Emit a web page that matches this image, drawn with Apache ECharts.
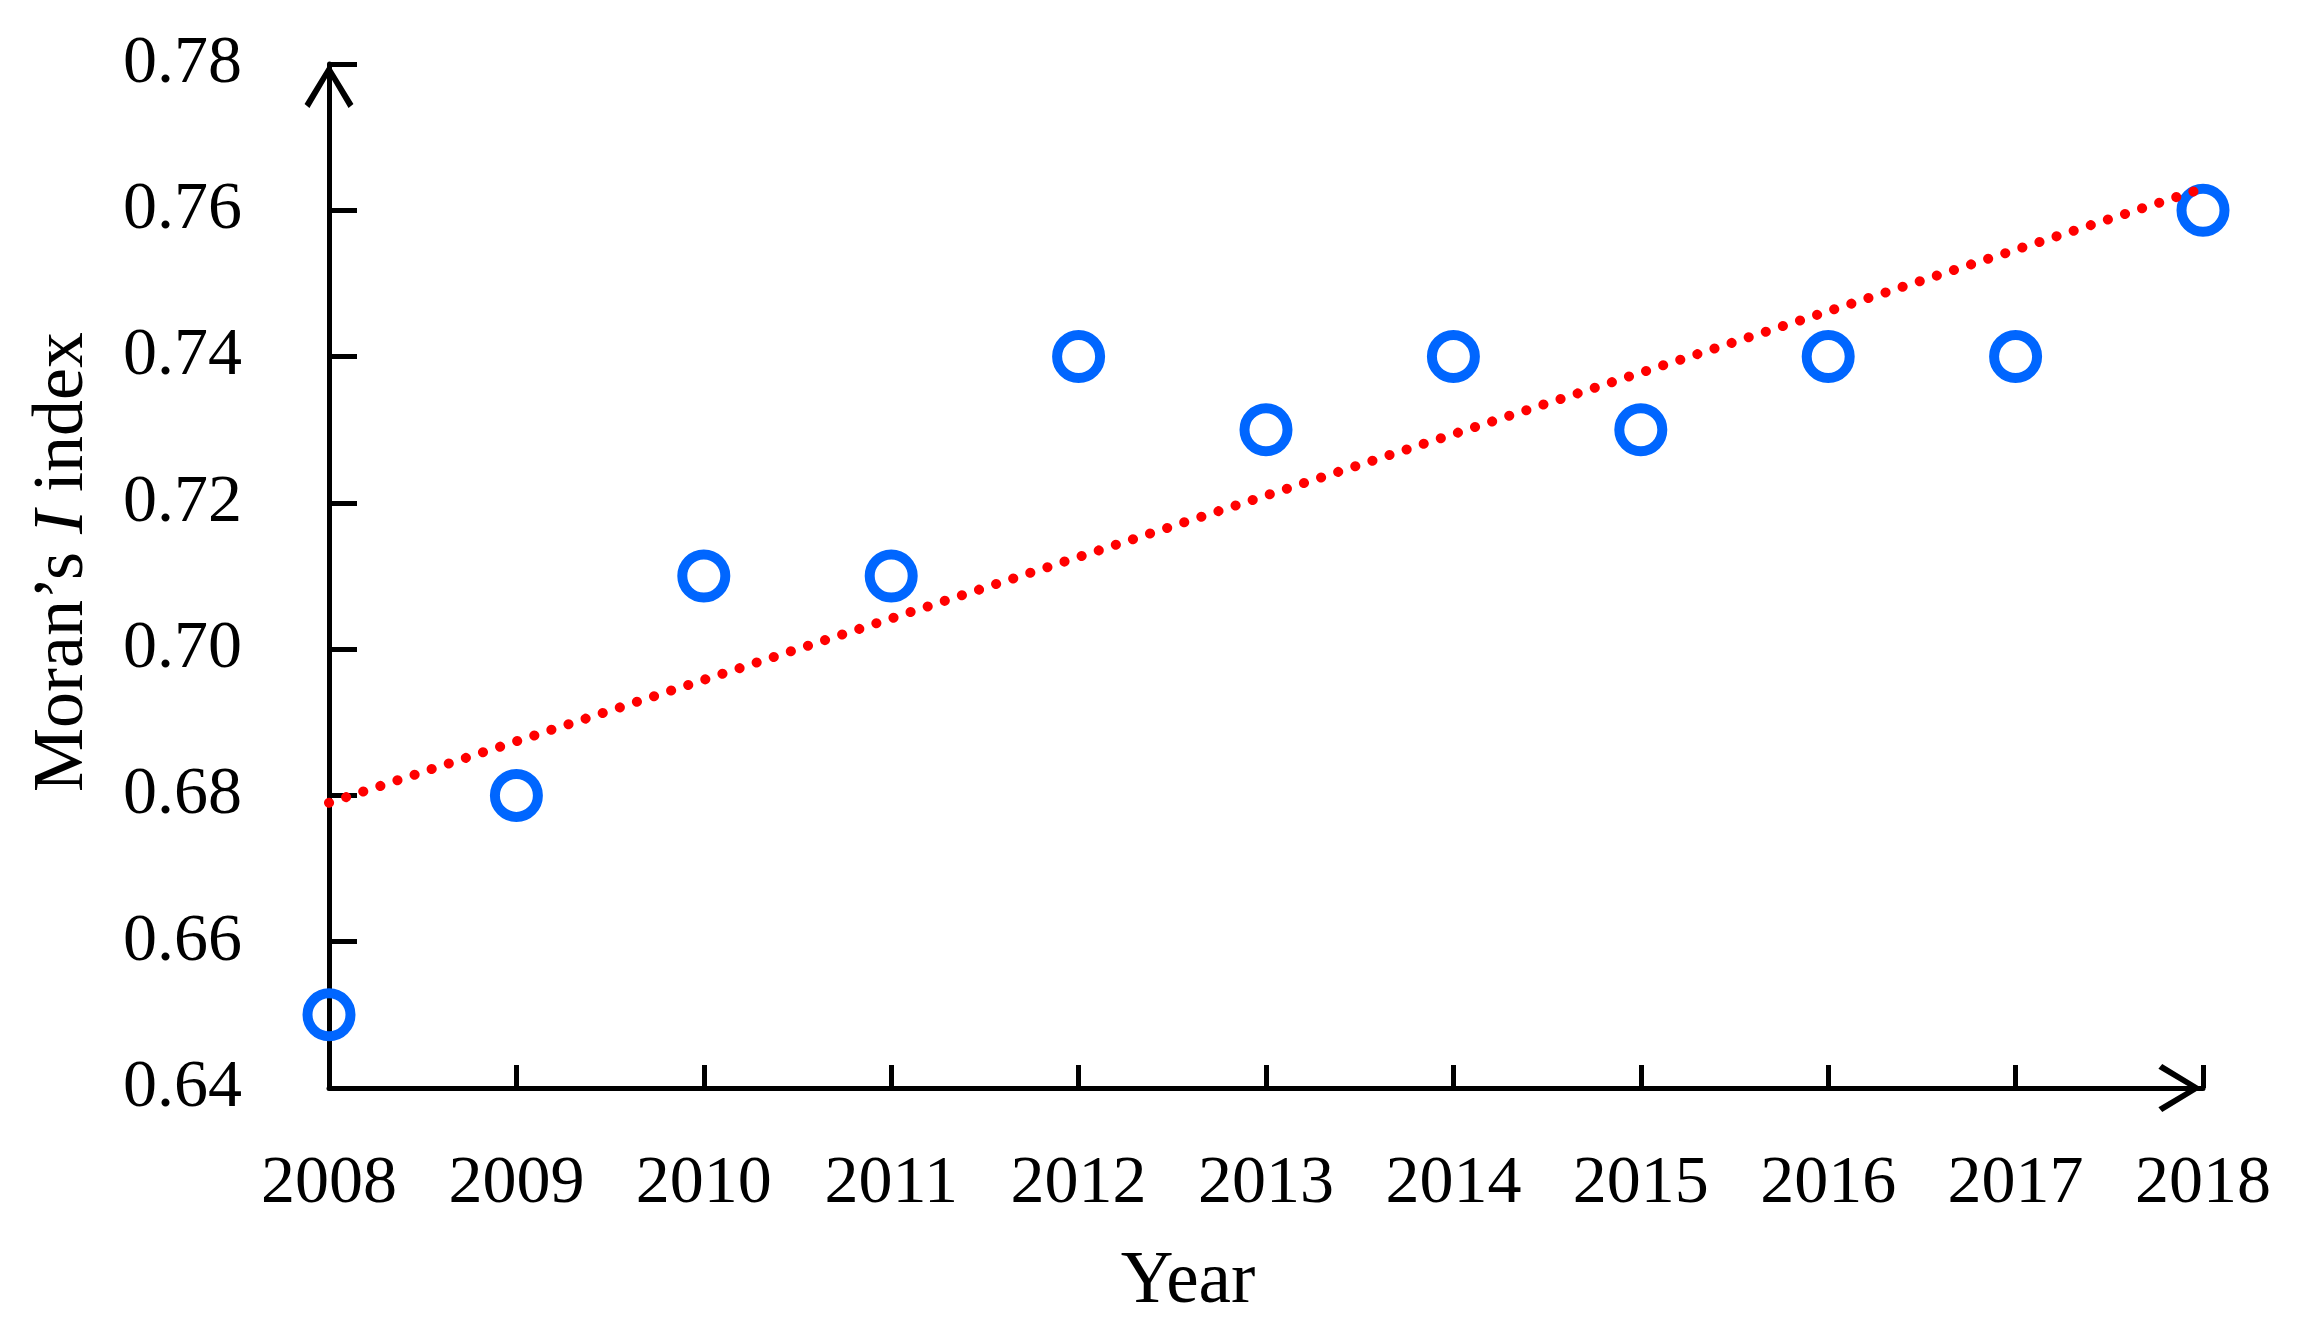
<!DOCTYPE html>
<html>
<head>
<meta charset="utf-8">
<script src="https://cdn.jsdelivr.net/npm/echarts@6/dist/echarts.min.js"></script>
<style>
html,body{margin:0;padding:0;background:#fff;}
#chart{width:2308px;height:1341px;}
</style>
</head>
<body>
<div id="chart"></div>
<script>
const years = ['2008','2009','2010','2011','2012','2013','2014','2015','2016','2017','2018'];
const moranI = [0.65, 0.68, 0.71, 0.71, 0.74, 0.73, 0.74, 0.73, 0.74, 0.74, 0.76];
const trendYears = ['2008', '2018'];
const trendValues = [0.679, 0.763];
const yMin = 0.64, yMax = 0.78, yStep = 0.02;

const FONT = '"Liberation Serif", "DejaVu Serif", serif';
const arrowPath = 'path://M25,0 L50,41 L45,45 L25,11 L5,45 L0,41 Z';

const chart = echarts.init(document.getElementById('chart'));
chart.setOption({
  animation: false,
  backgroundColor: '#fff',
  grid: { left: 329, right: 105, top: 64, bottom: 253 },
  xAxis: {
    type: 'category',
    data: years,
    boundaryGap: false,
    name: 'Year',
    nameLocation: 'middle',
    nameGap: 158,
    nameTextStyle: { fontFamily: FONT, fontSize: 73, color: '#000', padding: [0, 156, 0, 0] },
    axisLine: {
      lineStyle: { color: '#000', width: 5 },
      symbol: ['none', arrowPath],
      symbolSize: [48, 46],
      symbolOffset: [0, -23]
    },
    axisTick: { inside: true, length: 23, lineStyle: { color: '#000', width: 5 } },
    axisLabel: { fontFamily: FONT, fontSize: 68, color: '#000', margin: 62 },
    splitLine: { show: false }
  },
  yAxis: {
    type: 'value',
    min: yMin,
    max: yMax,
    interval: yStep,
    name: '{a|Moran’s }{i|I}{a| index}',
    nameLocation: 'middle',
    nameGap: 230,
    nameTextStyle: {
      padding: [0, 0, 0, 28],
      rich: {
        a: { fontFamily: FONT, fontSize: 72, color: '#000' },
        i: { fontFamily: FONT, fontSize: 72, color: '#000', fontStyle: 'italic' }
      }
    },
    axisLine: {
      show: true,
      lineStyle: { color: '#000', width: 5 },
      symbol: ['none', arrowPath],
      symbolSize: [52, 44],
      symbolOffset: [0, -22]
    },
    axisTick: { show: true, inside: true, length: 28, lineStyle: { color: '#000', width: 5 } },
    axisLabel: {
      fontFamily: FONT, fontSize: 68, color: '#000', margin: 87,
      formatter: v => v.toFixed(2)
    },
    splitLine: { show: false }
  },
  series: [
    {
      type: 'scatter',
      data: years.map((y, i) => [y, moranI[i]]),
      symbol: 'circle',
      symbolSize: 43,
      itemStyle: { color: 'rgba(0,0,0,0)', borderColor: '#0066FF', borderWidth: 10, opacity: 1 },
      z: 3
    },
    {
      type: 'line',
      data: trendYears.map((y, i) => [y, trendValues[i]]),
      symbol: 'none',
      lineStyle: { color: '#FF0000', width: 10, type: [0.1, 17.9], cap: 'round' },
      z: 4
    }
  ]
});
</script>
</body>
</html>
